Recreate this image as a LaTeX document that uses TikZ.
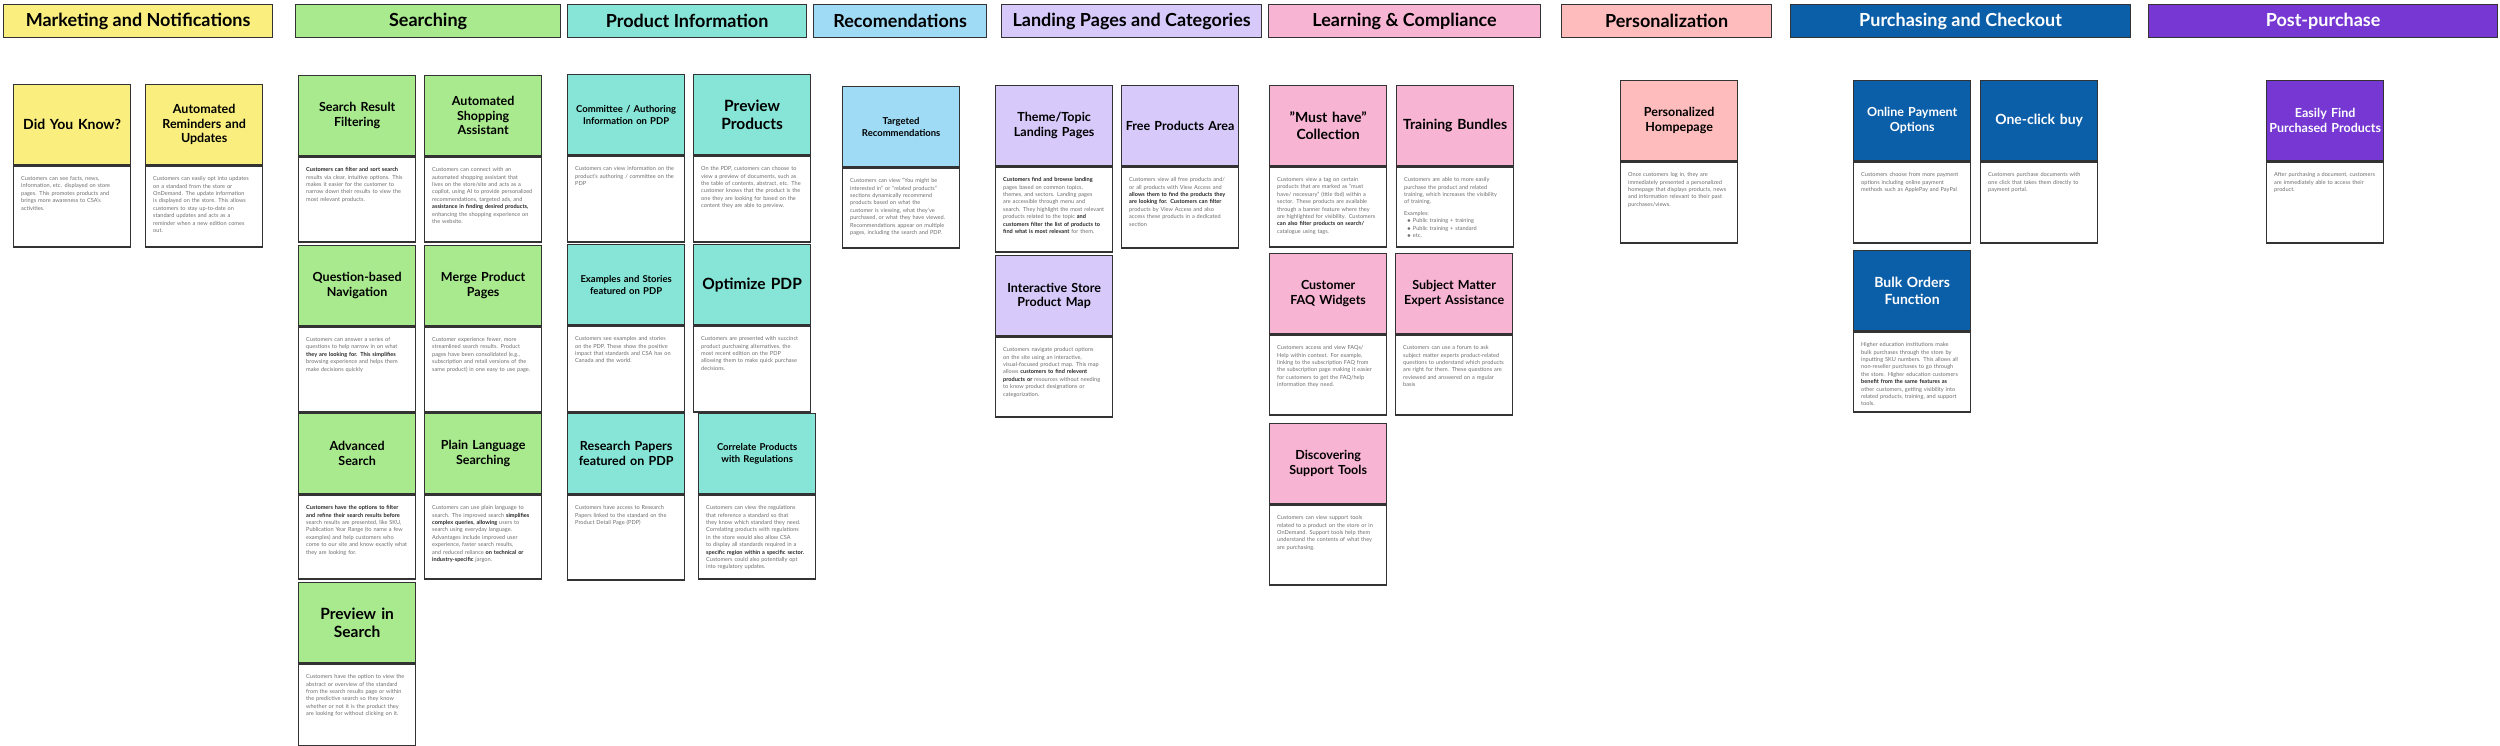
\documentclass[tikz,border=0pt]{standalone}
\usepackage{fontspec}
\setmainfont{Lato}
\hyphenpenalty=10000 \exhyphenpenalty=10000
\definecolor{cY}{HTML}{FAEF7E}
\definecolor{cG}{HTML}{A9EA8F}
\definecolor{cT}{HTML}{86E5D6}
\definecolor{cB}{HTML}{A0DBF6}
\definecolor{cL}{HTML}{D7CAFB}
\definecolor{cP}{HTML}{F8B4D3}
\definecolor{cS}{HTML}{FFBCBD}
\definecolor{cD}{HTML}{0B5EA8}
\definecolor{cV}{HTML}{7637D3}
\definecolor{ln}{HTML}{333333}
\definecolor{bt}{HTML}{6E6E6E}
\newcommand\hb[1]{\textbf{\color{black!85}#1}}
\tikzset{
 hdr/.style={draw=ln,line width=1.2pt,anchor=north west,minimum height=33,inner sep=0,font=\fontsize{18}{21}\selectfont\bfseries},
 ctop/.style={draw=ln,line width=1.3pt,anchor=north west,minimum width=117,minimum height=80,inner sep=0,text width=112,align=center},
 cbot/.style={draw=ln,line width=1.3pt,fill=white,anchor=north west,minimum width=117,inner sep=0},
 ctxt/.style={anchor=north west,text width=101,align=left,inner sep=0,font=\fontsize{5.6}{7.4}\selectfont,text=bt},
}
% #1 name #2 x #3 y #4 body height #5 style #6 title font #7 title #8 body
\newcommand\crd[8]{%
 \node[ctop,#5,font=#6\bfseries] (#1t) at (#2,#3) {#7};
 \node[cbot,minimum height=#4] (#1b) at (#1t.south west) {};
 \node[ctxt] (#1x) at ([xshift=8,yshift=-11]#1b.north west) {#8};
}
\newcommand\fa{\fontsize{12.5}{14.5}\selectfont}
\newcommand\fb{\fontsize{15.5}{18}\selectfont}
\newcommand\fd{\fontsize{14}{17}\selectfont}
\newcommand\fc{\fontsize{9.5}{12}\selectfont}
\begin{document}
\begin{tikzpicture}[x=1pt,y=-1pt]
\useasboundingbox[fill=white] (0,0) rectangle (2500,746);
% headers
\node[hdr,fill=cY,minimum width=269] (h1) at (3,4) {Marketing and Notifications};
\node[hdr,fill=cG,minimum width=265] (h2) at (295,4) {Searching};
\node[hdr,fill=cT,minimum width=239] (h3) at (567,4) {Product Information};
\node[hdr,fill=cB,minimum width=173] (h4) at (813,4) {Recomendations};
\node[hdr,fill=cL,minimum width=260] (h5) at (1001,4) {Landing Pages and Categories};
\node[hdr,fill=cP,minimum width=272] (h6) at (1268,4) {Learning \& Compliance};
\node[hdr,fill=cS,minimum width=210] (h7) at (1561,4) {Personalization};
\node[hdr,fill=cD,text=white,minimum width=340] (h8) at (1790,4) {Purchasing and Checkout};
\node[hdr,fill=cV,text=white,minimum width=349] (h9) at (2148,4) {Post-purchase};
% marketing
\crd{dyk}{13}{84}{81}{fill=cY}{\fd}{Did You Know?}{Customers can see facts, news, information, etc. displayed on store pages. This promotes products and brings more awareness to CSA's activities.}
\crd{arm}{145}{84}{81}{fill=cY}{\fa}{Automated\\Reminders and\\Updates}{Customers can easily opt into updates on a standard from the store or OnDemand. The update information is displayed on the store. This allows customers to stay up-to-date on standard updates and acts as a reminder when a new edition comes out.}
% searching
\crd{srf}{298}{75}{85}{fill=cG}{\fa}{Search Result\\Filtering}{\hb{Customers can filter and sort search} results via clear, intuitive options. This makes it easier for the customer to narrow down their results to view the most relevant products.}
\crd{asa}{424}{75}{85}{fill=cG}{\fa}{Automated\\Shopping\\Assistant}{Customers can connect with an automated shopping assistant that lives on the store/site and acts as a copilot, using AI to provide personalized recommendations, targeted ads, and \hb{assistance in finding desired products,} enhancing the shopping experience on the website.}
\crd{qbn}{298}{245}{85}{fill=cG}{\fa}{Question-based\\Navigation}{Customers can answer a series of questions to help narrow in on what \hb{they are looking for. This simplifies} browsing experience and helps them make decisions quickly}
\crd{mpp}{424}{245}{85}{fill=cG}{\fa}{Merge Product\\Pages}{Customer experience fewer, more streamlined search results. Product pages have been consolidated (e.g., subscription and retail versions of the same product) in one easy to use page.}
\crd{adv}{298}{413}{84}{fill=cG}{\fa}{Advanced\\Search}{\hb{Customers have the options to filter and refine their search results before} search results are presented, like SKU, Publication Year Range (to name a few examples) and help customers who come to our site and know exactly what they are looking for.}
\crd{pls}{424}{413}{84}{fill=cG}{\fa}{Plain Language\\Searching}{Customers can use plain language to search. The improved search \hb{simplifies complex queries, allowing} users to search using everyday language. Advantages include improved user experience, faster search results, and reduced reliance \hb{on technical or industry-specific} jargon.}
\crd{pis}{298}{582}{82}{fill=cG}{\fb}{Preview in\\Search}{Customers have the option to view the abstract or overview of the standard from the search results page or within the predictive search so they know whether or not it is the product they are looking for without clicking on it.}
% product info
\crd{cai}{567}{74}{86}{fill=cT}{\fc}{Committee / Authoring\\Information on PDP}{Customers can view information on the product's authoring / committee on the PDP}
\crd{pvp}{693}{74}{86}{fill=cT}{\fb}{Preview\\Products}{On the PDP, customers can choose to view a preview of documents, such as the table of contents, abstract, etc. The customer knows that the product is the one they are looking for based on the content they are able to preview.}
\crd{eas}{567}{244}{86}{fill=cT}{\fc}{Examples and Stories\\featured on PDP}{Customers see examples and stories on the PDP. These show the positive impact that standards and CSA has on Canada and the world.}
\crd{opd}{693}{244}{86}{fill=cT}{\fb}{Optimize PDP}{Customers are presented with succinct product purchasing alternatives, the most recent edition on the PDP allowing them to make quick purchase decisions.}
\crd{rpp}{567}{413}{85}{fill=cT}{\fa}{Research Papers\\featured on PDP}{Customers have access to Research Papers linked to the standard on the Product Detail Page (PDP)}
\crd{cpr}{698}{413}{84}{fill=cT}{\fc}{Correlate Products\\with Regulations}{Customers can view the regulations that reference a standard so that they know which standard they need. Correlating products with regulations in the store would also allow CSA to display all standards required in a \hb{specific region within a specific sector.} Customers could also potentially opt into regulatory updates.}
% recommendations
\crd{tgr}{842}{86}{80}{fill=cB}{\fc}{Targeted\\Recommendations}{Customers can view ``You might be interested in'' or ``related products'' sections dynamically recommend products based on what the customer is viewing, what they've purchased, or what they have viewed. Recommendations appear on multiple pages, including the search and PDP.}
% landing
\crd{ttl}{995}{85}{85}{fill=cL}{\fa}{Theme/Topic\\Landing Pages}{\hb{Customers find and browse landing} pages based on common topics, themes, and sectors. Landing pages are accessible through menu and search. They highlight the most relevant products related to the topic \hb{and customers filter the list of products to find what is most relevant} for them.}
\crd{fpa}{1121}{85}{81}{fill=cL}{\fa}{Free Products Area}{Customers view all free products and/ or all products with View Access and \hb{allows them to find the products they are looking for. Customers can filter} products by View Access and also access these products in a dedicated section}
\crd{isp}{995}{255}{80}{fill=cL}{\fa}{Interactive Store\\Product Map}{Customers navigate product options on the site using an interactive, visual-focused product map. This map allows \hb{customers to find relevent products or} resources without needing to know product designations or categorization.}
% learning
\crd{mhc}{1269}{85}{80}{fill=cP}{\fd}{"Must have"\\Collection}{Customers view a tag on certain products that are marked as ``must have/ necessary'' (title tbd) within a sector. These products are available through a banner feature where they are highlighted for visibility. Customers \hb{can also filter products on search/} catalogue using tags.}
\crd{trb}{1396}{85}{80}{fill=cP}{\fd}{Training Bundles}{Customers are able to more easily purchase the product and related training, which increases the visibility of training.\\[4pt]Examples:\\\hspace*{3pt}$\bullet$ Public training + training\\\hspace*{3pt}$\bullet$ Public training + standard\\\hspace*{3pt}$\bullet$ etc.}
\crd{faq}{1269}{253}{80}{fill=cP}{\fa}{Customer\\FAQ Widgets}{Customers access and view FAQs/ Help within context. For example, linking to the subscription FAQ from the subscription page making it easier for customers to get the FAQ/help information they need.}
\crd{sme}{1395}{253}{80}{fill=cP}{\fa}{Subject Matter\\Expert Assistance}{Customers can use a forum to ask subject matter experts product-related questions to understand which products are right for them. These questions are reviewed and answered on a regular basis}
\crd{dst}{1269}{423}{80}{fill=cP}{\fa}{Discovering\\Support Tools}{Customers can view support tools related to a product on the store or in OnDemand. Support tools help them understand the contents of what they are purchasing.}
% personalization
\crd{phg}{1620}{80}{81}{fill=cS}{\fa}{Personalized\\Hompepage}{Once customers log in, they are immediately presented a personalized homepage that displays products, news and information relevant to their past purchases/views.}
% purchasing
\crd{opo}{1853}{80}{81}{fill=cD,text=white}{\fa}{Online Payment\\Options}{Customers choose from more payment options including online payment methods such as ApplePay and PayPal}
\crd{ocb}{1980}{80}{81}{fill=cD,text=white}{\fd}{One-click buy}{Customers purchase documents with one click that takes them directly to payment portal.}
\crd{bof}{1853}{250}{80}{fill=cD,text=white}{\fd}{Bulk Orders\\Function}{Higher education institutions make bulk purchases through the store by inputting SKU numbers. This allows all non-reseller purchases to go through the store. Higher education customers \hb{benefit from the same features as} other customers, getting visibility into related products, training, and support tools.}
% post
\crd{efp}{2266}{80}{81}{fill=cV,text=white}{\fa}{Easily Find\\Purchased Products}{After purchasing a document, customers are immediately able to access their product.}
\end{tikzpicture}
\end{document}
